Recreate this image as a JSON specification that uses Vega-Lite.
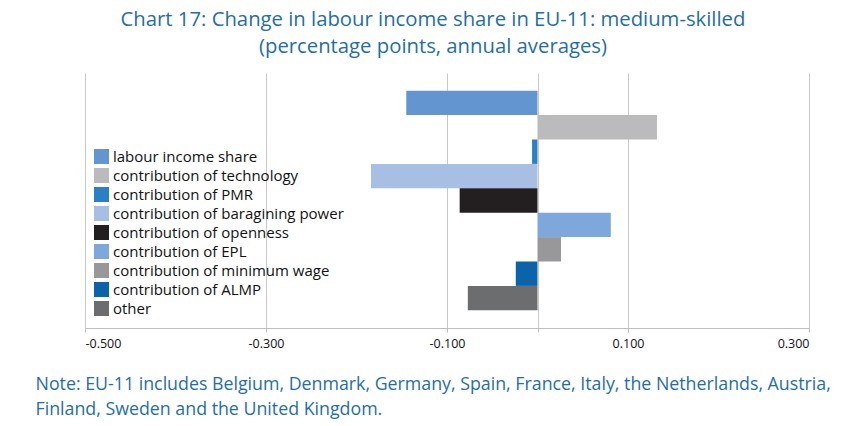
{
  "$schema": "https://vega.github.io/schema/vega-lite/v6.json",
  "autosize": {"type": "none"},
  "width": 724,
  "height": 255,
  "padding": {"left": 85, "top": 73, "right": 35, "bottom": 98},
  "background": "white",
  "config": {
    "view": {"stroke": null},
    "font": "Open Sans"
  },
  "title": {
    "text": ["Chart 17: Change in labour income share in EU-11: medium-skilled", "(percentage points, annual averages)"],
    "color": "#1F6EA8",
    "font": "Open Sans",
    "fontSize": 20.3,
    "fontWeight": "normal",
    "lineHeight": 27,
    "anchor": "middle",
    "frame": "group",
    "dx": -14,
    "offset": 16
  },
  "data": {
    "values": [
      {"series": "labour income share", "value": -0.145},
      {"series": "contribution of technology", "value": 0.132},
      {"series": "contribution of PMR", "value": -0.006},
      {"series": "contribution of baragining power", "value": -0.184},
      {"series": "contribution of openness", "value": -0.086},
      {"series": "contribution of EPL", "value": 0.081},
      {"series": "contribution of minimum wage", "value": 0.026},
      {"series": "contribution of ALMP", "value": -0.024},
      {"series": "other", "value": -0.077}
    ]
  },
  "mark": {"type": "bar"},
  "encoding": {
    "y": {
      "field": "series",
      "type": "nominal",
      "sort": null,
      "scale": {"paddingInner": 0, "paddingOuter": 0.725},
      "axis": null
    },
    "x": {
      "field": "value",
      "type": "quantitative",
      "scale": {"domain": [-0.5, 0.3], "nice": false, "zero": false},
      "axis": {
        "values": [-0.5, -0.3, -0.1, 0, 0.1, 0.3],
        "labelExpr": "datum.value == 0 ? '' : replace(format(datum.value, '.3f'), '\u2212', '-')",
        "grid": true,
        "gridColor": "#C8C8C8",
        "gridWidth": 1,
        "domainColor": "#BFBFBF",
        "tickColor": "#BFBFBF",
        "tickSize": 4,
        "labelFont": "Open Sans",
        "labelFontSize": 12.5,
        "labelColor": "#111111",
        "labelPadding": 5,
        "title": ["Note: EU-11 includes Belgium, Denmark, Germany, Spain, France, Italy, the Netherlands, Austria,", "Finland, Sweden and the United Kingdom."],
        "titleFont": "Open Sans",
        "titleFontSize": 17.8,
        "titleFontWeight": "normal",
        "titleColor": "#1F6EA8",
        "titleAlign": "left",
        "titleAnchor": "start",
        "titleBaseline": "alphabetic",
        "titleX": -50,
        "titleY": 61,
        "titleLineHeight": 25
      }
    },
    "color": {
      "field": "series",
      "type": "nominal",
      "sort": null,
      "scale": {
        "domain": ["labour income share", "contribution of technology", "contribution of PMR", "contribution of baragining power", "contribution of openness", "contribution of EPL", "contribution of minimum wage", "contribution of ALMP", "other"],
        "range": ["#6396D0", "#BBBBBD", "#2B7FC4", "#A7BFE3", "#231F20", "#7EA8DB", "#98989B", "#0B63AA", "#6B6D6F"]
      },
      "legend": {
        "title": null,
        "orient": "none",
        "legendX": 9,
        "legendY": 76,
        "padding": 0,
        "symbolType": "square",
        "symbolSize": 225,
        "symbolStrokeWidth": 0,
        "symbolOpacity": 1,
        "labelFont": "Open Sans",
        "labelFontSize": 15,
        "labelColor": "#111111",
        "labelOffset": 4,
        "rowPadding": 3,
        "labelLimit": 400
      }
    }
  }
}
